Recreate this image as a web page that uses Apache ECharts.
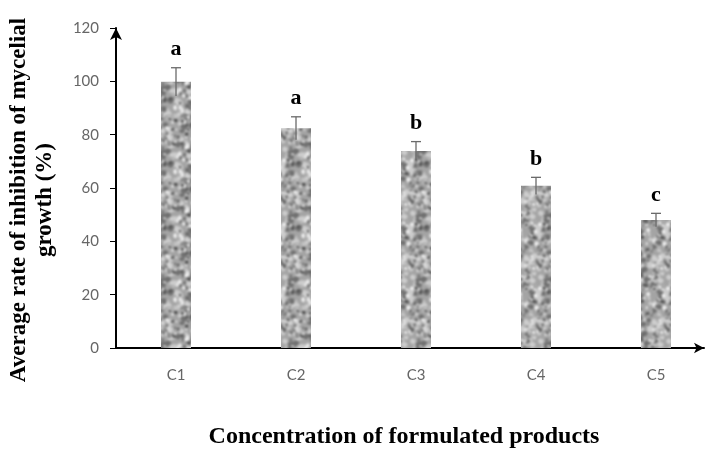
<!DOCTYPE html>
<html><head><meta charset="utf-8">
<script src="https://cdn.jsdelivr.net/npm/echarts@6/dist/echarts.min.js"></script>
<style>html,body{margin:0;padding:0;background:#fff}#c{width:706px;height:450px}</style>
</head><body><div id="c"></div>
<script>
var categories = ['C1', 'C2', 'C3', 'C4', 'C5'];
var means = [99.8, 82.4, 73.9, 60.8, 48.0];
var errors = [5.3, 4.3, 3.5, 3.2, 2.5];
var letters = ['a', 'a', 'b', 'b', 'c'];
var yTicks = [0, 20, 40, 60, 80, 100, 120];

// deterministic mottled texture (style only)
function makeTexture() {
  var S = 64, c = document.createElement('canvas');
  c.width = S; c.height = S;
  var g = c.getContext('2d');
  g.fillStyle = '#a4a4a4'; g.fillRect(0, 0, S, S);
  var seed = 987654;
  function rnd() { seed = (seed * 1103515245 + 12345) & 0x7fffffff; return seed / 0x7fffffff; }
  function blob(col, n, rmin, rmax) {
    for (var i = 0; i < n; i++) {
      var x = rnd() * S, y = rnd() * S, r = rmin + rnd() * (rmax - rmin);
      var ry = r * (0.5 + rnd() * 0.7), rot = rnd() * 3;
      g.fillStyle = col;
      for (var dx = -S; dx <= S; dx += S) for (var dy = -S; dy <= S; dy += S) {
        g.beginPath(); g.ellipse(x + dx, y + dy, r, ry, rot, 0, Math.PI * 2); g.fill();
      }
    }
  }
  blob('#cdcdcd', 90, 1.5, 3.5);
  blob('#707070', 80, 1.2, 3.0);
  blob('#ececec', 60, 1.0, 2.2);
  blob('#4a4a4a', 50, 0.8, 1.8);
  blob('#b6b6b6', 40, 1.0, 2.0);
  var big = document.createElement('canvas'); big.width = 3 * S; big.height = 3 * S;
  var gb = big.getContext('2d');
  for (var ix = 0; ix < 3; ix++) for (var iy = 0; iy < 3; iy++) gb.drawImage(c, ix * S, iy * S);
  var c2 = document.createElement('canvas'); c2.width = S; c2.height = S;
  var g2 = c2.getContext('2d');
  g2.filter = 'blur(0.9px)';
  g2.drawImage(big, -S, -S);
  return c2;
}
var tex = makeTexture();

var chart = echarts.init(document.getElementById('c'), null, {renderer: 'canvas'});
var serif = '"Liberation Serif","Times New Roman",serif';
var option = {
  animation: false,
  grid: [
    {left: 116, width: 600, top: 28, bottom: 102, outerBoundsMode: 'none', containLabel: false},
    {left: 116, right: 2, top: 28, bottom: 102, outerBoundsMode: 'none', containLabel: false}
  ],
  xAxis: [
    {type: 'category', data: categories, gridIndex: 0,
     axisLine: {show: false}, axisTick: {show: false},
     axisLabel: {color: '#666', fontSize: 15, fontFamily: 'Lato', margin: 20}},
    {type: 'value', gridIndex: 1, min: 0, max: 1, position: 'bottom',
     axisLine: {show: true, lineStyle: {color: '#000', width: 2}, symbol: ['none', 'arrow'], symbolSize: [8, 10]},
     axisTick: {show: false}, axisLabel: {show: false}, splitLine: {show: false}}
  ],
  yAxis: [
    {type: 'value', gridIndex: 0, min: yTicks[0], max: yTicks[yTicks.length - 1], interval: 20,
     axisLine: {show: true, lineStyle: {color: '#000', width: 2}, symbol: ['none', 'arrow'], symbolSize: [9, 12]},
     axisTick: {show: true, length: 6, lineStyle: {color: '#000', width: 1}},
     axisLabel: {color: '#666', fontSize: 15, fontFamily: 'Lato', margin: 17},
     splitLine: {show: false}},
    {type: 'value', gridIndex: 1, show: false, min: 0, max: 1}
  ],
  series: [
    {type: 'bar', xAxisIndex: 0, yAxisIndex: 0, data: means, barWidth: 30,
     itemStyle: {color: {image: tex, repeat: 'repeat'}}},
    {type: 'custom', xAxisIndex: 0, yAxisIndex: 0, z: 5,
     data: means.map(function (m, i) { return [i, m, errors[i]]; }),
     renderItem: function (params, api) {
       var i = api.value(0), m = api.value(1), e = api.value(2);
       var top = api.coord([i, m + e]), bot = api.coord([i, m - e]);
       var lt = letters[params.dataIndex];
       return {type: 'group', children: [
         {type: 'line', shape: {x1: top[0], y1: top[1], x2: bot[0], y2: bot[1]}, style: {stroke: '#6a6a6a', lineWidth: 1.3}},
         {type: 'line', shape: {x1: top[0] - 5, y1: top[1], x2: top[0] + 5, y2: top[1]}, style: {stroke: '#6a6a6a', lineWidth: 1.3}},
         {type: 'text', x: top[0], y: top[1] - 7, style: {text: lt, fill: '#000', font: 'bold 22px ' + serif, textAlign: 'center', textVerticalAlign: 'bottom'}}
       ]};
     }}
  ],
  graphic: [
    {type: 'text', x: 404, y: 437, style: {text: 'Concentration of formulated products', fill: '#000', font: 'bold 24px ' + serif, textAlign: 'center', textVerticalAlign: 'middle'}},
    {type: 'text', x: 32, y: 200, rotation: Math.PI / 2, originX: 0, originY: 0,
     style: {text: 'Average rate of inhibition of mycelial\ngrowth (%)', fill: '#000', font: 'bold 23px ' + serif, textAlign: 'center', textVerticalAlign: 'middle', lineHeight: 26}}
  ]
};
chart.setOption(option);
</script></body></html>
